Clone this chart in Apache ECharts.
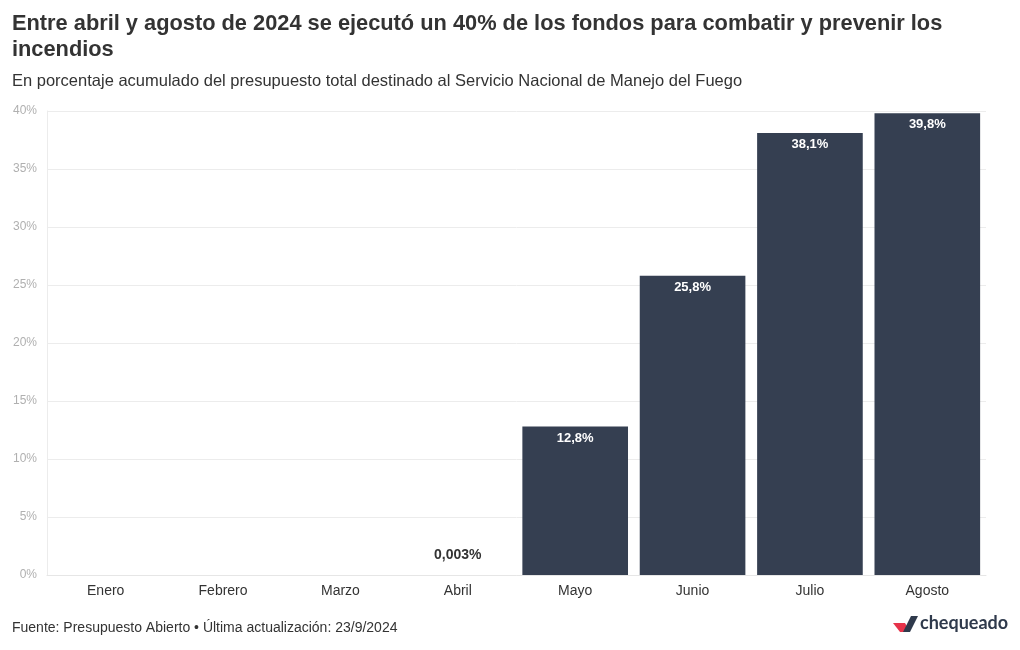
<!DOCTYPE html>
<html><head><meta charset="utf-8">
<script src="https://cdn.jsdelivr.net/npm/echarts@6/dist/echarts.min.js"></script>
<style>html,body{margin:0;padding:0;background:#fff}#c{width:1020px;height:650px}</style>
</head><body><div id="c"></div>
<script>
const categories = ['Enero','Febrero','Marzo','Abril','Mayo','Junio','Julio','Agosto'];
const values = [null, null, null, 0.003, 12.8, 25.8, 38.1, 39.8];
const yTicks = [0, 5, 10, 15, 20, 25, 30, 35, 40];

const chart = echarts.init(document.getElementById('c'));
const fmt = v => String(v).replace('.', ',') + '%';
chart.setOption({
  animation: false,
  textStyle: {fontFamily: 'Liberation Sans, Arial, sans-serif'},
  title: [
    {text: 'Entre abril y agosto de 2024 se ejecutó un 40% de los fondos para combatir y prevenir los\nincendios',
     left: 12, top: 11, padding: 0, textStyle: {fontSize: 21.8, fontWeight: 'bold', color: '#333', lineHeight: 26}},
    {text: 'En porcentaje acumulado del presupuesto total destinado al Servicio Nacional de Manejo del Fuego',
     left: 12, top: 73, padding: 0, textStyle: {fontSize: 16.5, fontWeight: 'normal', color: '#333'}},
    {text: 'Fuente: Presupuesto Abierto • Última actualización: 23/9/2024',
     left: 12, top: 621, padding: 0, textStyle: {fontSize: 14, fontWeight: 'normal', color: '#333'}}
  ],
  grid: {left: 47, right: 34, top: 111, bottom: 75, containLabel: false},
  xAxis: {
    type: 'category', data: categories,
    axisLine: {show: true, lineStyle: {color: '#e6e6e6'}},
    axisTick: {show: false},
    axisLabel: {fontSize: 14, color: '#333', margin: 9},
    splitLine: {show: false}
  },
  yAxis: {
    type: 'value', min: 0, max: 40, interval: 5,
    axisLine: {show: true, lineStyle: {color: '#ececec'}},
    axisTick: {show: false},
    axisLabel: {fontSize: 12, color: '#b0b0b0', margin: 10, formatter: v => yTicks.includes(v) ? v + '%' : '', verticalAlign: 'middle'},
    splitLine: {lineStyle: {color: '#ececec'}}
  },
  series: [{
    type: 'bar', data: values.map((v, i) => ({
      value: v,
      label: v !== null && v < 1 ? {position: 'top', color: '#333', fontSize: 14, fontWeight: 'bold', distance: 13} : undefined
    })),
    barCategoryGap: '10%',
    itemStyle: {color: '#353f51'},
    label: {show: true, position: 'insideTop', distance: 5, color: '#fff', fontSize: 13, fontWeight: 'bold',
      formatter: p => fmt(p.value)}
  }],
  graphic: [
    {type: 'polygon', shape: {points: [[893,623],[905,623],[910,632],[900,632]]}, style: {fill: '#e6334a'}},
    {type: 'polygon', shape: {points: [[903,632],[911,616],[918,616],[910,632]]}, style: {fill: '#2f3a4c'}},
    {type: 'text', left: 920, top: 614, style: {text: 'chequeado', fontSize: 18, fontWeight: 'bold', fill: '#2f3a4c', fontFamily: 'Lato, sans-serif'}}
  ]
});
</script></body></html>
